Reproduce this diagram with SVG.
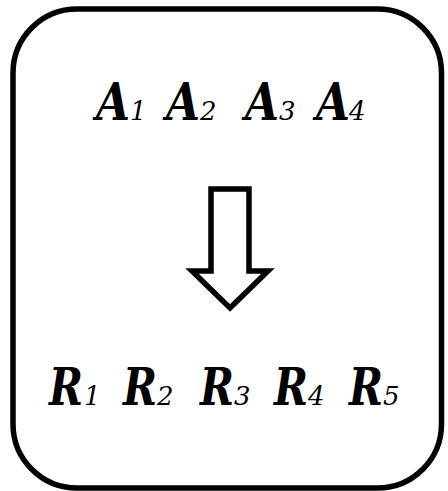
<svg xmlns="http://www.w3.org/2000/svg" width="448" height="491" viewBox="0 0 448 491">
<style>
.big{font-family:"DejaVu Serif","Liberation Serif",serif;font-weight:bold;font-style:italic;font-size:52px;fill:#000}
.sub{font-family:"DejaVu Serif","Liberation Serif",serif;font-weight:normal;font-style:italic;font-size:26px;fill:#000}
.ln{fill:#fff;stroke:#000;stroke-width:5.5;stroke-linejoin:miter;stroke-miterlimit:10}
</style>
<rect width="448" height="491" fill="#fff"/>
<g id="frame">
<rect class="ln" x="13" y="9" width="428.5" height="479" rx="64" ry="64"/>
</g>
<g id="inputs">
<text class="big" x="96" y="120" textLength="34" lengthAdjust="spacingAndGlyphs">A</text>
<text class="sub" x="130" y="120">1</text>
<text class="big" x="166" y="120" textLength="34" lengthAdjust="spacingAndGlyphs">A</text>
<text class="sub" x="200" y="120">2</text>
<text class="big" x="245" y="120" textLength="34" lengthAdjust="spacingAndGlyphs">A</text>
<text class="sub" x="279" y="120">3</text>
<text class="big" x="316" y="120" textLength="34" lengthAdjust="spacingAndGlyphs">A</text>
<text class="sub" x="349" y="120">4</text>
</g>
<g id="connectors">
<polygon id="arrow" class="ln" points="211,189 249,189 249,271 268,271 230,308 192,271 211,271"/>
</g>
<g id="outputs">
<text class="big" x="49" y="405" textLength="34" lengthAdjust="spacingAndGlyphs">R</text>
<text class="sub" x="84" y="405">1</text>
<text class="big" x="123" y="405" textLength="34" lengthAdjust="spacingAndGlyphs">R</text>
<text class="sub" x="157" y="405">2</text>
<text class="big" x="200" y="405" textLength="34" lengthAdjust="spacingAndGlyphs">R</text>
<text class="sub" x="234" y="405">3</text>
<text class="big" x="274" y="405" textLength="34" lengthAdjust="spacingAndGlyphs">R</text>
<text class="sub" x="308" y="405">4</text>
<text class="big" x="349" y="405" textLength="34" lengthAdjust="spacingAndGlyphs">R</text>
<text class="sub" x="383" y="405">5</text>
</g>
</svg>
